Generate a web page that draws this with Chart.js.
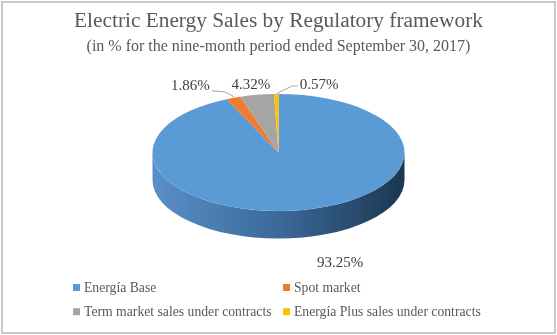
<!DOCTYPE html>
<html><head><meta charset="utf-8">
<script src="https://cdn.jsdelivr.net/npm/chart.js@4.4.0/dist/chart.umd.min.js"></script>
<style>html,body{margin:0;padding:0;background:#fff}#wrap{position:relative;width:557px;height:335px}</style>
</head><body><div id="wrap"><canvas id="c" width="557" height="335"></canvas></div>
<script>
// ---- data ----
const categories = ['Energía Base', 'Spot market', 'Term market sales under contracts', 'Energía Plus sales under contracts'];
const shares = [93.25, 1.86, 4.32, 0.57];
const valueLabels = ['93.25%', '1.86%', '4.32%', '0.57%'];
const chartTitle = 'Electric Energy Sales by Regulatory framework';
const chartSubtitle = '(in % for the nine-month period ended September 30, 2017)';

// ---- styles ----
const topColors = ['#5B9BD5', '#ED7D31', '#A5A5A5', '#FFC000'];
const sideLight = ['#5a90c8', '#d06a28', '#8f8f8f', '#e0a800'];
const sideMid = ['#3b6a99', '#a85520', '#707070', '#b08600'];
const sideDark = ['#1c3650', '#6e3612', '#4a4a4a', '#7a5c00'];
const PIE = { cx: 278.5, cy: 152.5, rx: 126, ry: 58.5, depth: 27.5 };
const SERIF = "'Liberation Serif', 'Times New Roman', serif";
// label offset from slice anchor (on top ellipse rim), and leader settings
const labelStyle = [
  { dx: 35, dy: 53, leader: null },
  { dx: -43, dy: -12, leader: 'right' },
  { dx: -6, dy: -10, leader: null },
  { dx: 43, dy: -9, leader: 'left' }
];
const legendStyle = { cols: [73, 283], rows: [287.5, 311.7], box: 7, gap: 4, font: 13.7 };

function drawSide(ctx, a1, a2, i) {
  const { cx, cy, rx, ry, depth } = PIE;
  ctx.save();
  ctx.beginPath();
  ctx.ellipse(cx, cy, rx, ry, 0, a1, a2, false);
  ctx.ellipse(cx, cy + depth, rx, ry, 0, a2, a1, true);
  ctx.closePath();
  const g = ctx.createLinearGradient(cx - rx, 0, cx + rx, 0);
  g.addColorStop(0, sideLight[i]);
  g.addColorStop(0.5, sideMid[i]);
  g.addColorStop(1, sideDark[i]);
  ctx.fillStyle = g;
  ctx.fill();
  ctx.restore();
}

const pie3d = {
  id: 'pie3d',
  beforeDraw(chart) {
    const ctx = chart.ctx;
    ctx.save();
    ctx.fillStyle = '#ffffff';
    ctx.fillRect(0, 0, chart.width, chart.height);
    ctx.restore();
  },
  beforeDatasetsDraw(chart) {
    const ctx = chart.ctx;
    const arcs = chart.getDatasetMeta(0).data;
    arcs.forEach((arc, i) => {
      const s = arc.startAngle, e = arc.endAngle;
      for (const sh of [-2 * Math.PI, 0, 2 * Math.PI]) {
        const a1 = Math.max(s + sh, 0), a2 = Math.min(e + sh, Math.PI);
        if (a2 > a1) drawSide(ctx, a1, a2, i);
      }
    });
    const a0 = arcs[0];
    const k = PIE.ry / a0.outerRadius;
    ctx.save();
    ctx.translate(PIE.cx - a0.x, PIE.cy - k * a0.y);
    ctx.scale(1, k);
  },
  afterDatasetsDraw(chart) {
    chart.ctx.restore();
  },
  afterDraw(chart) {
    const ctx = chart.ctx;
    const arcs = chart.getDatasetMeta(0).data;
    // data labels
    ctx.save();
    ctx.font = '15px ' + SERIF;
    ctx.textBaseline = 'middle';
    ctx.textAlign = 'center';
    arcs.forEach((arc, i) => {
      const m = (arc.startAngle + arc.endAngle) / 2;
      const ax = PIE.cx + PIE.rx * Math.cos(m);
      const ay = PIE.cy + PIE.ry * Math.sin(m);
      const st = labelStyle[i];
      const lx = ax + st.dx, ly = ay + st.dy;
      ctx.fillStyle = '#404040';
      ctx.fillText(valueLabels[i], lx, ly);
      if (st.leader) {
        const w = ctx.measureText(valueLabels[i]).width;
        ctx.strokeStyle = '#a6a6a6';
        ctx.lineWidth = 1;
        ctx.beginPath();
        if (st.leader === 'right') {
          const sx = lx + w / 2 + 2, sy = ly + 5;
          ctx.moveTo(sx, sy);
          ctx.lineTo(sx + 13, sy + 1);
          ctx.lineTo(ax + 1, ay - 1);
        } else {
          const sx = lx - w / 2 - 2, sy = ly + 1;
          ctx.moveTo(sx, sy);
          ctx.lineTo(sx - 6, sy);
          ctx.lineTo(ax, ay);
        }
        ctx.stroke();
      }
    });
    ctx.restore();
    // legend
    ctx.save();
    ctx.font = legendStyle.font + 'px ' + SERIF;
    ctx.textBaseline = 'middle';
    ctx.textAlign = 'left';
    categories.forEach((c, i) => {
      const x = legendStyle.cols[i % 2], y = legendStyle.rows[Math.floor(i / 2)];
      ctx.fillStyle = topColors[i];
      ctx.fillRect(x, y - legendStyle.box / 2, legendStyle.box, legendStyle.box);
      ctx.fillStyle = '#595959';
      ctx.fillText(c, x + legendStyle.box + legendStyle.gap, y + 0.5);
    });
    ctx.restore();
    // frame
    ctx.save();
    ctx.strokeStyle = '#c9c9c9';
    ctx.lineWidth = 2;
    ctx.strokeRect(2, 2, 553, 331);
    ctx.restore();
  }
};

new Chart(document.getElementById('c'), {
  type: 'pie',
  data: {
    labels: categories,
    datasets: [{
      data: shares,
      backgroundColor: topColors,
      borderWidth: 0,
      radius: PIE.rx,
      clip: false
    }]
  },
  options: {
    responsive: false,
    animation: false,
    devicePixelRatio: 1,
    events: [],
    layout: { padding: 0 },
    plugins: {
      legend: { display: false },
      tooltip: { enabled: false },
      title: {
        display: true,
        text: chartTitle,
        color: '#595959',
        font: { family: SERIF, size: 21.33, weight: 'normal' },
        padding: { top: 9, bottom: 0 }
      },
      subtitle: {
        display: true,
        text: chartSubtitle,
        color: '#595959',
        font: { family: SERIF, size: 16, weight: 'normal' },
        padding: { top: 3, bottom: 10 }
      }
    }
  },
  plugins: [pie3d]
});
</script>
</body></html>
